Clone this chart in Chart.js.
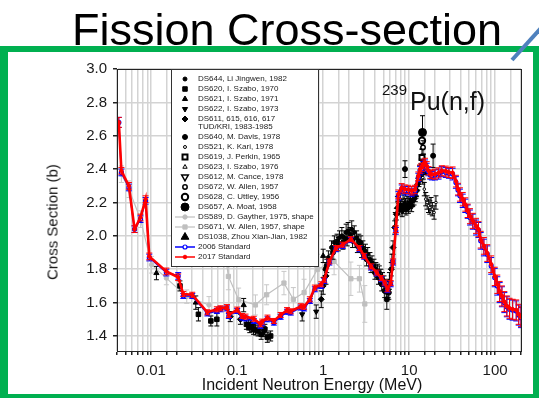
<!DOCTYPE html>
<html>
<head>
<meta charset="utf-8">
<script src="https://cdn.jsdelivr.net/npm/chart.js@4.4.1/dist/chart.umd.min.js"></script>
<style>
  html, body { margin: 0; padding: 0; background: #fff; }
  #wrap { position: relative; width: 539px; height: 398px; overflow: hidden;
          font-family: "Liberation Sans", Arial, sans-serif; color: #111; }
  #ourChart { position: absolute; left: 0; top: 0; }
  .txt { position: absolute; white-space: nowrap; }
  #heading { left: 72px; top: 7px; font-size: 45px; line-height: 45px; color: #000; }
  #ylab { left: 52px; top: 222px; font-size: 15px; line-height: 15px;
          transform: translate(-50%, -50%) rotate(-90deg); }
  #xlab { left: 312px; top: 377px; font-size: 16px; line-height: 16px; transform: translateX(-50%); }
  #iso { left: 382px; top: 82px; font-size: 15px; line-height: 15px; }
  #react { left: 410px; top: 89px; font-size: 25px; line-height: 25px; }
  #frame { position: absolute; left: 0; top: 46px; width: 539px; height: 352px; box-sizing: border-box;
           border: 6px solid #00b050; border-left-width: 8px; border-bottom-width: 4px; }
  #deco { position: absolute; left: 0; top: 0; }
</style>
</head>
<body>
<div id="wrap">
  <canvas id="ourChart" width="539" height="398"></canvas>
  <div class="txt" id="heading">Fission Cross-section</div>
  <div class="txt" id="ylab">Cross Section (b)</div>
  <div class="txt" id="xlab">Incident Neutron Energy (MeV)</div>
  <div class="txt" id="iso">239</div>
  <div class="txt" id="react">Pu(n,f)</div>
  <div id="frame"></div>
  <svg id="deco" width="539" height="398"><line x1="512" y1="60" x2="541" y2="28" stroke="#4f81bd" stroke-width="4"/></svg>
</div>
<script>
// axis ticks
let yTicks = [1.4, 1.6, 1.8, 2.0, 2.2, 2.4, 2.6, 2.8, 3.0];

// evaluated standards (energy in MeV, cross section in b)
let stdE = [
  0.0042, 0.0045, 0.0055, 0.0064, 0.0075, 0.0086, 0.0095, 0.015, 0.0206, 0.0236,
  0.030, 0.045, 0.058, 0.064, 0.076, 0.080, 0.100, 0.114, 0.125, 0.156,
  0.187, 0.195, 0.225, 0.267, 0.32, 0.38, 0.42, 0.55, 0.60, 0.70,
  0.80, 0.95, 1.03, 1.18, 1.41, 1.69, 2.1, 2.64, 3.0, 3.6,
  4.2, 4.75, 5.2, 5.6, 6.1, 6.5, 7.0, 7.5, 8.2, 8.9,
  9.8, 10.7, 11.7, 12.8, 13.4, 14.0, 14.6, 15.3, 16.0, 16.8,
  17.6, 18.4, 20, 22, 24, 26.7, 29, 32, 35, 37,
  39, 42, 45, 48, 51, 55, 60, 64, 68, 74,
  81, 90, 99, 106, 113, 120, 128, 137, 147, 160,
  176, 188, 200];
let std2017 = [
  2.68, 2.39, 2.30, 2.04, 2.11, 2.22, 1.877, 1.787, 1.752, 1.652,
  1.647, 1.542, 1.56, 1.566, 1.573, 1.526, 1.558, 1.52, 1.516, 1.503,
  1.47, 1.486, 1.51, 1.49, 1.526, 1.555, 1.548, 1.578, 1.575, 1.62,
  1.69, 1.71, 1.737, 1.847, 1.927, 1.947, 1.98, 1.927, 1.88, 1.817,
  1.78, 1.747, 1.72, 1.68, 1.717, 1.847, 2.04, 2.25, 2.288, 2.28,
  2.278, 2.27, 2.278, 2.358, 2.40, 2.41, 2.43, 2.44, 2.42, 2.39,
  2.37, 2.368, 2.37, 2.378, 2.39, 2.388, 2.38, 2.378, 2.328, 2.28,
  2.248, 2.22, 2.188, 2.15, 2.118, 2.09, 2.06, 2.04, 1.977, 1.94,
  1.897, 1.83, 1.757, 1.71, 1.667, 1.64, 1.606, 1.58, 1.566, 1.56,
  1.556, 1.53, 1.516];
let std2006 = [
  2.68, 2.38, 2.29, 2.04, 2.10, 2.21, 1.87, 1.78, 1.76, 1.64,
  1.64, 1.535, 1.55, 1.56, 1.565, 1.52, 1.55, 1.51, 1.505, 1.49,
  1.46, 1.475, 1.50, 1.48, 1.515, 1.545, 1.54, 1.57, 1.565, 1.61,
  1.68, 1.70, 1.73, 1.84, 1.92, 1.94, 1.975, 1.92, 1.875, 1.81,
  1.775, 1.74, 1.715, 1.675, 1.71, 1.84, 2.03, 2.24, 2.28, 2.27,
  2.27, 2.26, 2.27, 2.35, 2.39, 2.40, 2.42, 2.43, 2.41, 2.385,
  2.365, 2.36, 2.365, 2.37, 2.385, 2.38, 2.375, 2.37, 2.32, 2.275,
  2.24, 2.21, 2.18, 2.145, 2.11, 2.085, 2.05, 2.035, 1.97, 1.93,
  1.89, 1.82, 1.75, 1.70, 1.66, 1.635, 1.60, 1.575, 1.56, 1.555,
  1.55, 1.525, 1.51];
let stdErr = [
  0.03, 0.02, 0.02, 0.02, 0.02, 0.02, 0.02, 0.02, 0.02, 0.015,
  0.015, 0.015, 0.015, 0.015, 0.015, 0.015, 0.015, 0.015, 0.015, 0.015,
  0.015, 0.015, 0.015, 0.015, 0.015, 0.015, 0.015, 0.015, 0.015, 0.015,
  0.015, 0.015, 0.015, 0.015, 0.015, 0.015, 0.015, 0.015, 0.015, 0.015,
  0.015, 0.015, 0.015, 0.015, 0.015, 0.015, 0.02, 0.025, 0.025, 0.025,
  0.025, 0.025, 0.025, 0.025, 0.025, 0.025, 0.025, 0.025, 0.025, 0.025,
  0.025, 0.025, 0.03, 0.03, 0.03, 0.03, 0.03, 0.035, 0.035, 0.035,
  0.04, 0.04, 0.04, 0.04, 0.045, 0.045, 0.045, 0.045, 0.05, 0.05,
  0.05, 0.05, 0.055, 0.055, 0.06, 0.06, 0.06, 0.06, 0.06, 0.06,
  0.06, 0.06, 0.06];

// measurements
let ds644E = [1.05, 1.15, 1.25, 1.35, 1.45, 1.55, 1.65, 1.75, 1.85, 1.95, 2.05, 2.15, 2.3, 2.45, 2.6, 2.75,
  2.9, 3.1, 3.3, 3.5, 3.7, 3.9, 4.1, 4.3, 4.5, 4.7, 4.9, 5.1, 5.3, 5.5, 5.7, 5.9];
let ds644Y = [1.80, 1.87, 1.93, 1.96, 1.97, 1.99, 2.00, 1.99, 2.02, 2.03, 2.01, 2.04, 2.02, 1.99, 1.97, 1.96,
  1.93, 1.91, 1.89, 1.86, 1.84, 1.82, 1.80, 1.79, 1.78, 1.76, 1.74, 1.72, 1.70, 1.66, 1.68, 1.73];
let ds644Err = [0.04, 0.04, 0.04, 0.04, 0.04, 0.04, 0.05, 0.04, 0.05, 0.05, 0.04, 0.05, 0.04, 0.04, 0.04, 0.04,
  0.04, 0.04, 0.04, 0.04, 0.04, 0.04, 0.04, 0.04, 0.04, 0.04, 0.04, 0.04, 0.04, 0.05, 0.05, 0.05];

let ds620E = [0.0216, 0.0354, 0.0494, 0.058, 0.128, 0.136, 0.14, 0.149, 0.155, 0.163, 0.175, 0.19, 0.21, 0.224, 0.245];
let ds620Y = [1.70, 1.53, 1.49, 1.50, 1.47, 1.466, 1.45, 1.456, 1.44, 1.436, 1.43, 1.41, 1.44, 1.392, 1.40];
let ds620Err = [0.03, 0.04, 0.03, 0.04, 0.03, 0.03, 0.03, 0.03, 0.03, 0.03, 0.03, 0.03, 0.03, 0.03, 0.03];

let ds621E = [0.0115, 0.033, 0.119, 1.0];
let ds621Y = [1.777, 1.60, 1.585, 1.88];
let ds621Err = [0.04, 0.04, 0.04, 0.04];

let ds622E = [0.205, 0.57, 0.83];
let ds622Y = [1.426, 1.53, 1.546];
let ds622Err = [0.03, 0.04, 0.04];

let ds611E = [0.083, 0.109, 0.95, 1.0, 1.08, 6.2, 6.5, 6.8, 7.1, 7.4, 7.7, 8.0, 8.3, 8.6, 8.9, 9.2, 9.5, 9.8,
  10.1, 10.4, 10.7, 11.0, 11.4, 11.8, 12.2, 12.6, 13.0, 13.4];
let ds611Y = [1.516, 1.50, 1.62, 1.70, 1.76, 1.80, 1.93, 2.05, 2.13, 2.17, 2.16, 2.18, 2.15, 2.17, 2.19, 2.16, 2.18, 2.17,
  2.19, 2.20, 2.18, 2.21, 2.22, 2.24, 2.27, 2.31, 2.33, 2.36];
let ds611Err = [0.03, 0.03, 0.05, 0.05, 0.05, 0.04, 0.04, 0.04, 0.035, 0.035, 0.035, 0.035, 0.035, 0.035, 0.035, 0.035, 0.035, 0.035,
  0.035, 0.035, 0.035, 0.035, 0.035, 0.035, 0.035, 0.035, 0.035, 0.035];

let ds640E = [1.1, 1.3, 1.5, 1.7, 1.9, 2.2, 2.5, 2.8, 3.2, 3.6, 4.0, 4.4, 4.8, 5.2, 5.5, 5.8, 8.95, 19.0];
let ds640Y = [1.82, 1.90, 1.95, 1.96, 1.98, 1.97, 1.94, 1.91, 1.86, 1.82, 1.78, 1.75, 1.71, 1.67, 1.62, 1.66, 2.40, 2.48];
let ds640Err = [0.04, 0.04, 0.04, 0.04, 0.04, 0.04, 0.04, 0.04, 0.04, 0.04, 0.04, 0.04, 0.04, 0.04, 0.06, 0.04, 0.05, 0.07];

let ds521E = [6.3, 6.9, 7.3, 7.9, 8.5, 9.1, 9.7, 10.3, 11.1, 12.0, 13.2, 13.8, 14.4, 15.0, 15.6, 16.2, 16.8, 17.4, 18.0, 18.6, 19.5, 20.5];
let ds521Y = [1.85, 2.10, 2.20, 2.22, 2.21, 2.23, 2.20, 2.22, 2.24, 2.26, 2.38, 2.42, 2.35, 2.28, 2.22, 2.20, 2.18, 2.17, 2.19, 2.16, 2.14, 2.20];
let ds521Err = [0.04, 0.04, 0.035, 0.035, 0.035, 0.035, 0.035, 0.035, 0.035, 0.035, 0.04, 0.04, 0.04, 0.04, 0.04, 0.04, 0.04, 0.04, 0.04, 0.04, 0.04, 0.04];

let ds619E = [14.1], ds619Y = [2.47], ds619Err = [0.05];
let ds623E = [14.7], ds623Y = [2.45], ds623Err = [0.04];
let ds612E = [14.4], ds612Y = [2.42], ds612Err = [0.05];
let ds672E = [14.5], ds672Y = [2.53], ds672Err = [0.04];
let ds628E = [14.1], ds628Y = [2.57], ds628Err = [0.05];
let ds657E = [14.3], ds657Y = [2.62], ds657Err = [0.10];
let ds1038E = [14.6], ds1038Y = [2.38], ds1038Err = [0.04];

// shape measurements
let ds589E = [0.0045, 0.0055, 0.0075, 0.0101, 0.015, 0.0259, 0.047];
let ds589Y = [2.37, 2.28, 2.10, 1.827, 1.747, 1.636, 1.586];
let ds589Err = [0.05, 0.05, 0.05, 0.05, 0.04, 0.04, 0.05];

let ds671E = [0.07, 0.079, 0.104, 0.163, 0.22, 0.35, 0.45, 0.6, 0.86, 1.34, 2.1, 2.64, 3.05];
let ds671Y = [1.95, 1.757, 1.617, 1.586, 1.647, 1.717, 1.62, 1.66, 1.80, 1.847, 1.743, 1.743, 1.592];
let ds671Err = [0.08, 0.08, 0.07, 0.06, 0.06, 0.07, 0.07, 0.08, 0.09, 0.08, 0.1, 0.08, 0.11];

const pts = (E, Y) => E.map((x, i) => ({x: x, y: Y[i]}));

const black = '#000';
const grey = '#bfbfbf';

// one helper for the black experimental sets
function expSet(label, E, Y, err, style, extra) {
    return Object.assign({
        label: label,
        data: pts(E, Y),
        errors: err,
        errorColor: black,
        showLine: false,
        pointStyle: style,
        pointRadius: 2.5,
        pointBackgroundColor: black,
        pointBorderColor: black,
        pointBorderWidth: 1,
        order: 2
    }, extra || {});
}

// vertical error bars with caps, drawn under each dataset
const errorBars = {
    id: 'errorBars',
    beforeDatasetDraw(chart, args) {
        const ds = chart.data.datasets[args.index];
        if (!ds.errors) return;
        const ctx = chart.ctx, ys = chart.scales.y;
        const cap = ds.errorCap || 2.5;
        ctx.save();
        Chart.helpers.clipArea(ctx, chart.chartArea);
        ctx.strokeStyle = ds.errorColor;
        ctx.lineWidth = 1;
        ctx.beginPath();
        args.meta.data.forEach((p, i) => {
            const v = ds.data[i].y, e = ds.errors[i];
            const t = ys.getPixelForValue(v + e), b = ys.getPixelForValue(v - e);
            ctx.moveTo(p.x, t); ctx.lineTo(p.x, b);
            ctx.moveTo(p.x - cap, t); ctx.lineTo(p.x + cap, t);
            ctx.moveTo(p.x - cap, b); ctx.lineTo(p.x + cap, b);
        });
        ctx.stroke();
        Chart.helpers.unclipArea(ctx);
        ctx.restore();
    }
};

// closed frame round the plot plus the boxed key in the upper left
const frameAndKey = {
    id: 'frameAndKey',
    afterDatasetsDraw(chart, args, opts) {
        const ctx = chart.ctx, a = chart.chartArea;
        ctx.save();
        ctx.strokeStyle = '#222';
        ctx.lineWidth = 1;
        ctx.strokeRect(a.left + 0.5, a.top + 0.5, a.right - a.left, a.bottom - a.top);

        const box = opts.box;
        ctx.fillStyle = '#fff';
        ctx.fillRect(box.x, box.y, box.w, box.h);
        ctx.strokeStyle = '#333';
        ctx.strokeRect(box.x + 0.5, box.y + 0.5, box.w, box.h);

        ctx.font = opts.font;
        ctx.textBaseline = 'middle';
        let y = opts.firstRow;
        chart.data.datasets.forEach(ds => {
            const mx = opts.markerX;
            if (ds.showLine) {
                ctx.strokeStyle = ds.borderColor;
                ctx.lineWidth = Math.min(ds.borderWidth, 1.5);
                ctx.beginPath();
                ctx.moveTo(mx - 10, y); ctx.lineTo(mx + 10, y);
                ctx.stroke();
            }
            ctx.fillStyle = ds.pointBackgroundColor;
            ctx.strokeStyle = ds.pointBorderColor;
            ctx.lineWidth = ds.pointBorderWidth;
            Chart.helpers.drawPoint(ctx, {
                pointStyle: ds.pointStyle,
                radius: ds.keyRadius || ds.pointRadius,
                rotation: ds.pointRotation || 0,
                borderWidth: ds.pointBorderWidth
            }, mx, y);
            ctx.fillStyle = '#1a1a1a';
            const lines = [].concat(ds.label);
            lines.forEach((s, k) => {
                ctx.fillText(s, opts.textX, y);
                if (k < lines.length - 1) y += opts.wrapStep;
            });
            y += opts.rowStep;
        });
        ctx.restore();
    }
};

const ourCanvas = document.getElementById('ourChart');

new Chart(ourCanvas, {
    type: 'scatter',
    data: {
        datasets: [
            expSet('DS644, Li Jingwen, 1982', ds644E, ds644Y, ds644Err, 'circle', {pointRadius: 2}),
            expSet('DS620, I. Szabo, 1970', ds620E, ds620Y, ds620Err, 'rect', {pointRadius: 3.2}),
            expSet('DS621, I. Szabo, 1971', ds621E, ds621Y, ds621Err, 'triangle', {pointRadius: 3}),
            expSet('DS622, I. Szabo, 1973', ds622E, ds622Y, ds622Err, 'triangle', {pointRadius: 3, pointRotation: 180}),
            expSet(['DS611, 615, 616, 617', 'TUD/KRI, 1983-1985'], ds611E, ds611Y, ds611Err, 'rectRot', {pointRadius: 3}),
            expSet('DS640, M. Davis, 1978', ds640E, ds640Y, ds640Err, 'circle', {pointRadius: 2.5}),
            expSet('DS521, K. Kari, 1978', ds521E, ds521Y, ds521Err, 'circle', {pointRadius: 1.3, pointBackgroundColor: '#fff', keyRadius: 1.5}),
            expSet('DS619, J. Perkin, 1965', ds619E, ds619Y, ds619Err, 'rect', {pointRadius: 3.5, pointBackgroundColor: '#fff', pointBorderWidth: 2}),
            expSet('DS623, I. Szabo, 1976', ds623E, ds623Y, ds623Err, 'triangle', {pointRadius: 2.5, pointBackgroundColor: '#fff'}),
            expSet('DS612, M. Cance, 1978', ds612E, ds612Y, ds612Err, 'triangle', {pointRadius: 3.8, pointRotation: 180, pointBackgroundColor: '#fff', pointBorderWidth: 1.5}),
            expSet('DS672, W. Allen, 1957', ds672E, ds672Y, ds672Err, 'circle', {pointRadius: 2.2, pointBackgroundColor: '#fff', pointBorderWidth: 1.5}),
            expSet('DS628, C. Uttley, 1956', ds628E, ds628Y, ds628Err, 'circle', {pointRadius: 3.2, pointBackgroundColor: '#fff', pointBorderWidth: 2}),
            expSet('DS657, A. Moat, 1958', ds657E, ds657Y, ds657Err, 'circle', {pointRadius: 4}),
            {
                label: 'DS589, D. Gayther, 1975, shape', data: pts(ds589E, ds589Y), errors: ds589Err, errorColor: '#c8c8c8',
                showLine: true, borderColor: grey, borderWidth: 1.2, pointStyle: 'circle', pointRadius: 2.2,
                pointBackgroundColor: grey, pointBorderColor: grey, pointBorderWidth: 1, order: 3
            },
            {
                label: 'DS671, W. Allen, 1957, shape', data: pts(ds671E, ds671Y), errors: ds671Err, errorColor: '#c8c8c8',
                showLine: true, borderColor: grey, borderWidth: 1.2, pointStyle: 'rect', pointRadius: 3,
                pointBackgroundColor: grey, pointBorderColor: grey, pointBorderWidth: 1, order: 3
            },
            expSet('DS1038, Zhou Xian-Jian, 1982', ds1038E, ds1038Y, ds1038Err, 'triangle', {pointRadius: 4.5}),
            {
                label: '2006 Standard', data: pts(stdE, std2006), errors: stdErr, errorColor: '#0000ff', errorCap: 3,
                showLine: true, borderColor: '#0000ff', borderWidth: 1.5, pointStyle: 'circle', pointRadius: 2,
                pointBackgroundColor: '#fff', pointBorderColor: '#0000ff', pointBorderWidth: 1.2, order: 1
            },
            {
                label: '2017 Standard', data: pts(stdE, std2017), errors: stdErr, errorColor: '#ff0000', errorCap: 3,
                showLine: true, borderColor: '#ff0000', borderWidth: 2.6, pointStyle: 'circle', pointRadius: 1.8,
                pointBackgroundColor: '#ff0000', pointBorderColor: '#ff0000', pointBorderWidth: 1, order: 0
            }
        ]
    },
    options: {
        responsive: false,
        animation: false,
        devicePixelRatio: 1,
        layout: { padding: { left: 0, top: 69, right: 18, bottom: 0 } },
        scales: {
            x: {
                type: 'logarithmic',
                min: 0.004,
                max: 200,
                afterFit: s => { s.height = 47; },
                grid: { color: '#d3d3d3', lineWidth: 1.5, tickColor: '#222', tickLength: 4 },
                border: { color: '#222', width: 1 },
                ticks: {
                    autoSkip: false,
                    maxRotation: 0,
                    padding: 7,
                    color: '#1a1a1a',
                    font: { family: 'Liberation Sans', size: 15 },
                    callback: v => {
                        const p = Math.log10(v);
                        return Math.abs(p - Math.round(p)) < 1e-6 ? String(+v.toPrecision(3)) : '';
                    }
                }
            },
            y: {
                min: 1.31,
                max: 3.0,
                afterFit: s => { s.width = 117; },
                afterBuildTicks: s => { s.ticks = yTicks.map(v => ({value: v})); },
                grid: { color: '#d3d3d3', lineWidth: 1.5, tickColor: '#222', tickLength: 4 },
                border: { color: '#222', width: 1 },
                ticks: {
                    padding: 6,
                    color: '#1a1a1a',
                    font: { family: 'Liberation Sans', size: 15 },
                    callback: v => v.toFixed(1)
                }
            }
        },
        plugins: {
            legend: { display: false },
            tooltip: { enabled: false },
            frameAndKey: {
                box: { x: 171, y: 69, w: 147, h: 197 },
                font: '8px "Liberation Sans"',
                markerX: 185,
                textX: 198,
                firstRow: 79,
                rowStep: 10,
                wrapStep: 8
            }
        }
    },
    plugins: [errorBars, frameAndKey]
});
</script>
</body>
</html>
